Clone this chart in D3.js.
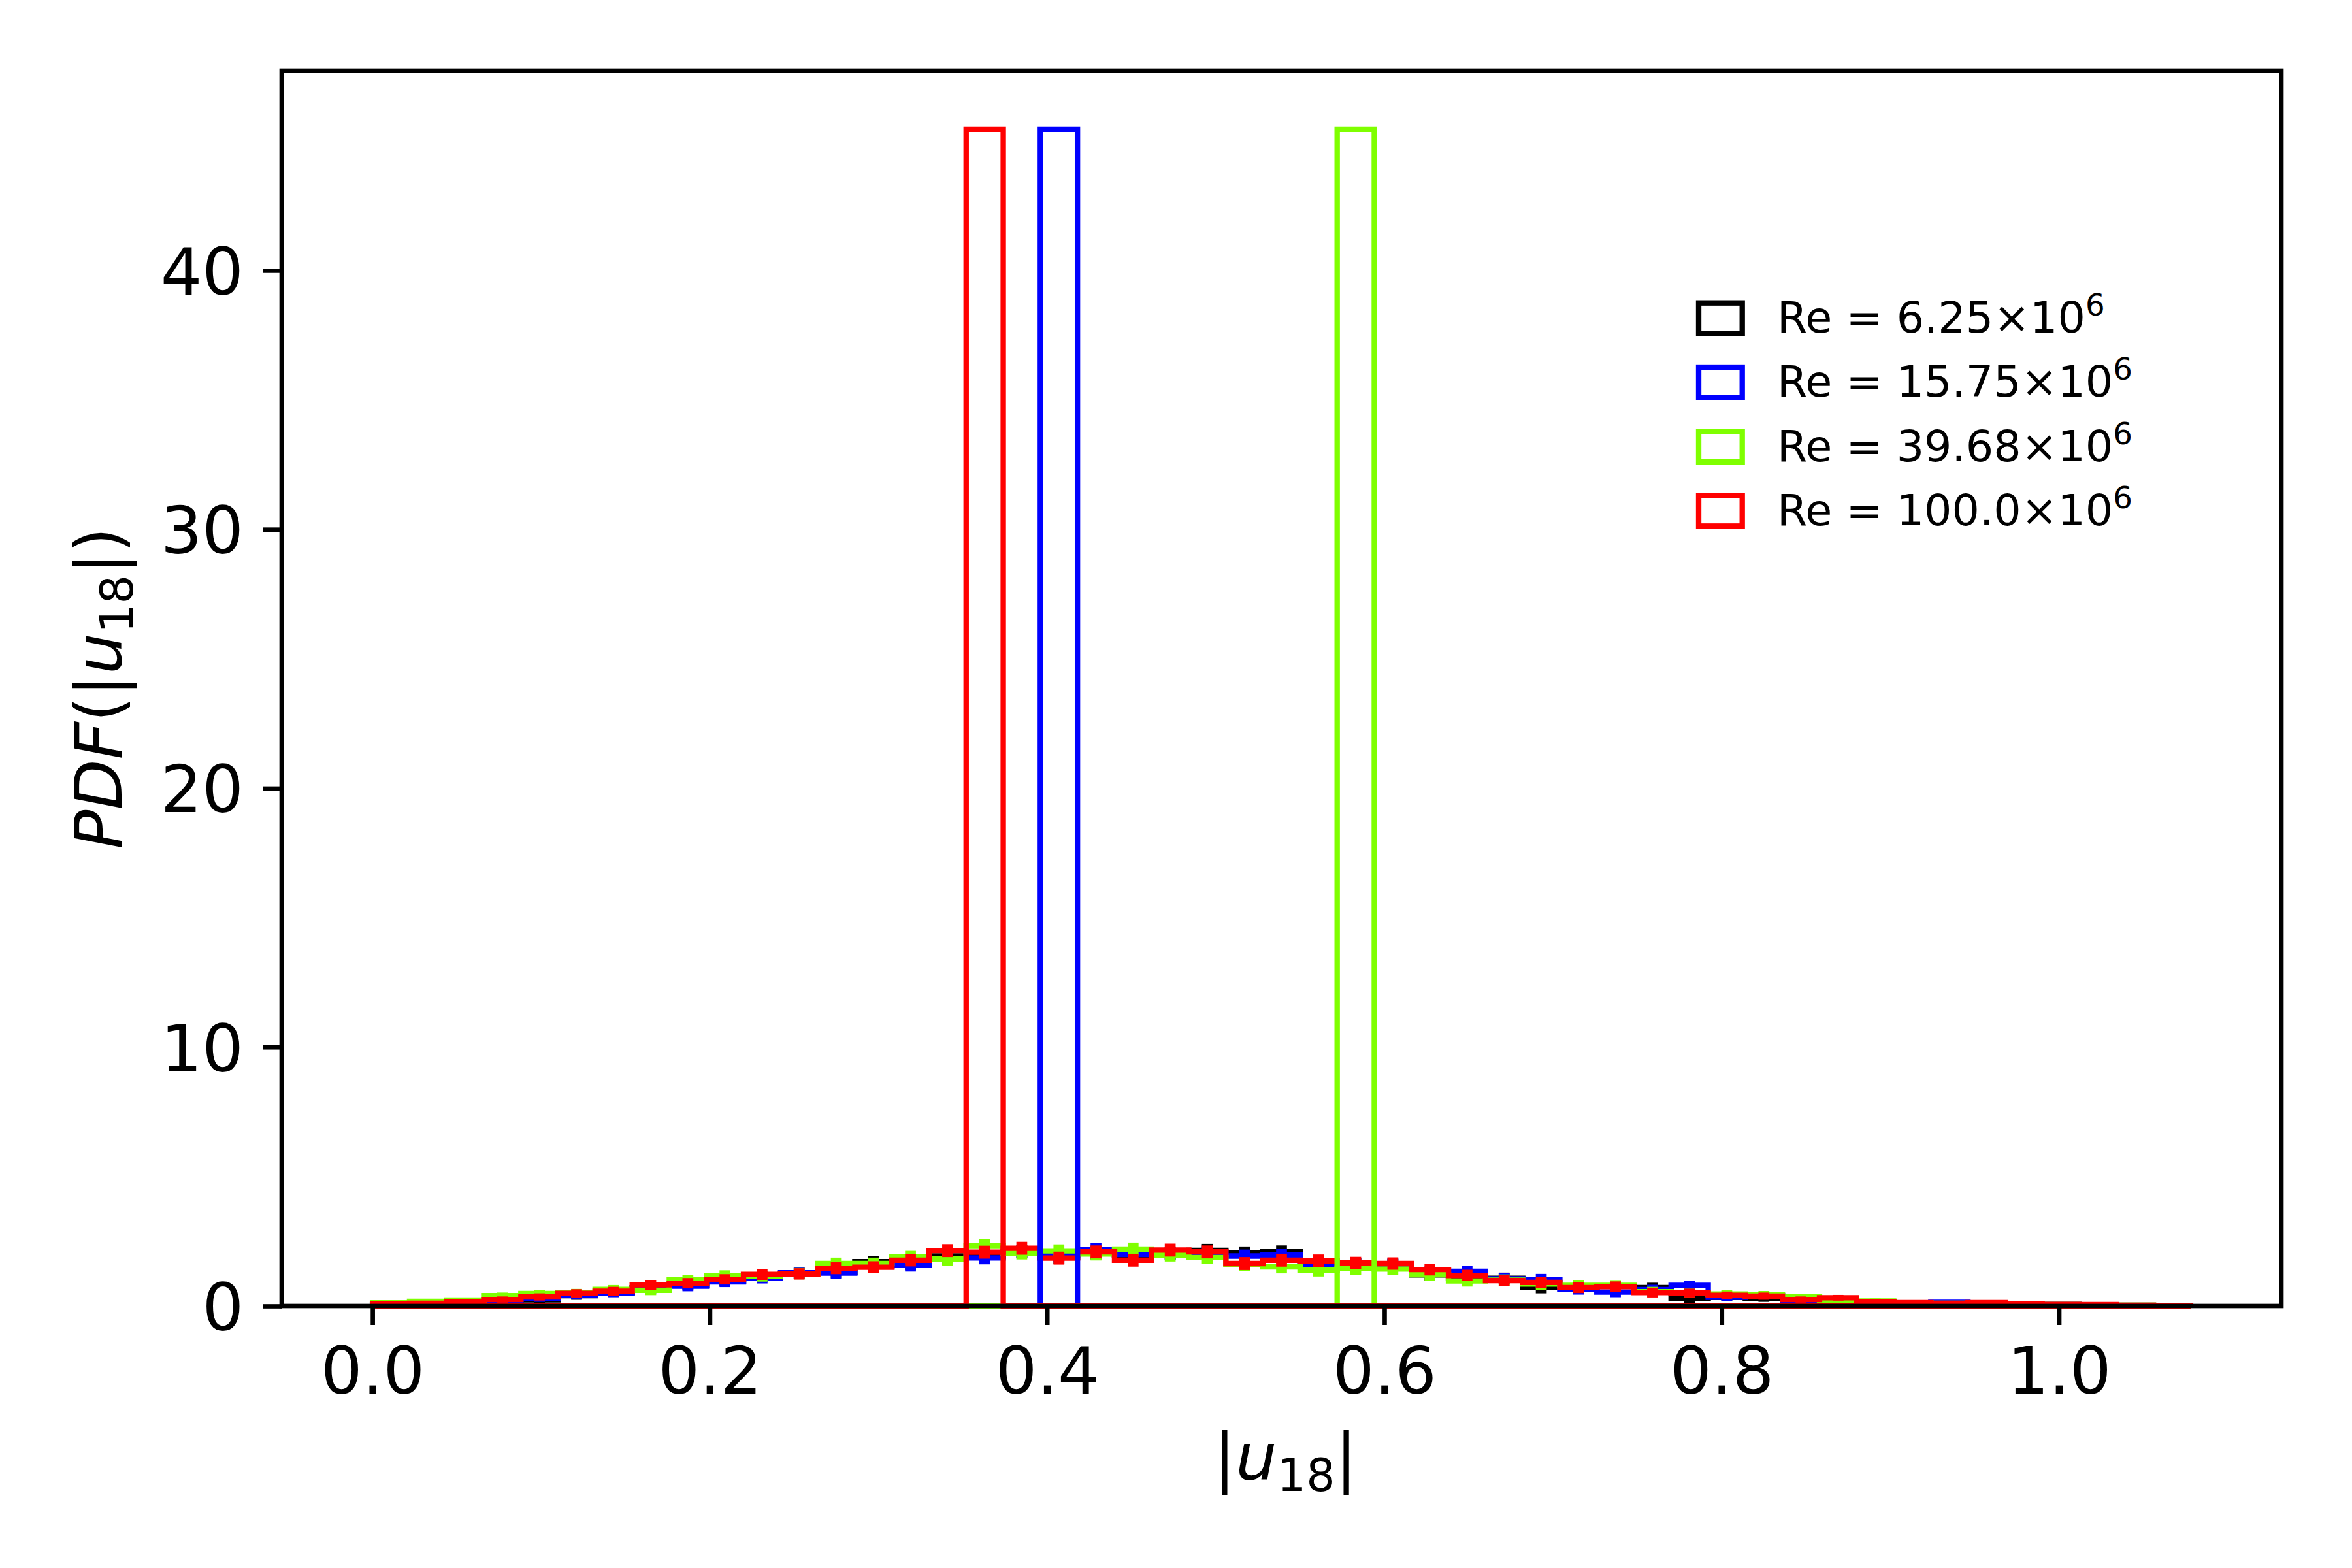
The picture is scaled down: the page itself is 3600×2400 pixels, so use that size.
<!DOCTYPE html>
<html>
<head>
<meta charset="utf-8">
<script src="https://cdn.jsdelivr.net/npm/d3@7/dist/d3.min.js"></script>
<style>
    body { margin: 0; background: #fff; }
    svg text { font-family: 'DejaVu Sans', sans-serif; fill: #000; }
</style>
</head>
<body>
<div id="chart"></div>
<script>
// bins are shared by all four runs
const binWidth = 0.022;
const binCount = 49;

const seriesColors = ['#000000', '#0000ff', '#7fff00', '#ff0000'];
const legendMantissas = ['6.25', '15.75', '39.68', '100.0'];

// broad part of the PDF, one value per bin
const blackValues = [0.05, 0.10, 0.14, 0.22, 0.24, 0.40, 0.52, 0.70, 0.80, 0.95, 1.12, 1.26, 1.30, 1.71, 1.62, 1.93,
    1.92, 2.12, 1.89, 2.05, 1.97, 2.05, 2.15, 2.05, 2.09, 1.57, 1.62, 1.58, 1.20, 1.08, 1.07, 0.71, 0.72, 0.78, 0.71,
    0.29, 0.33, 0.30, 0.25, 0.20, 0.15, 0.12, 0.11, 0.10, 0.07, 0.05, 0.04, 0.03, 0.02];
const blueValues = [0.05, 0.09, 0.13, 0.22, 0.30, 0.41, 0.51, 0.68, 0.77, 0.93, 1.08, 1.28, 1.27, 1.55, 1.57, 1.84,
    1.86, 2.10, 1.95, 2.19, 1.99, 2.02, 2.05, 1.93, 1.97, 1.60, 1.60, 1.62, 1.30, 1.34, 1.05, 1.02, 0.65, 0.54, 0.63,
    0.80, 0.34, 0.40, 0.22, 0.20, 0.15, 0.12, 0.14, 0.09, 0.06, 0.05, 0.04, 0.02, 0.02];
const greenValues = [0.12, 0.18, 0.23, 0.40, 0.48, 0.50, 0.64, 0.61, 1.01, 1.18, 1.15, 1.25, 1.64, 1.64, 1.89, 1.81,
    2.33, 2.05, 2.13, 2.01, 2.20, 1.97, 1.87, 1.60, 1.51, 1.39, 1.45, 1.43, 1.21, 0.97, 1.00, 0.85, 0.80, 0.80, 0.55,
    0.50, 0.46, 0.44, 0.35, 0.22, 0.19, 0.12, 0.10, 0.10, 0.07, 0.05, 0.04, 0.03, 0.02];
const redValues = [0.09, 0.10, 0.15, 0.25, 0.35, 0.49, 0.57, 0.82, 0.88, 1.03, 1.22, 1.24, 1.46, 1.50, 1.77, 2.14,
    2.08, 2.23, 1.85, 2.09, 1.77, 2.16, 2.09, 1.64, 1.77, 1.74, 1.66, 1.64, 1.41, 1.18, 0.98, 0.91, 0.71, 0.75, 0.52,
    0.50, 0.41, 0.38, 0.25, 0.32, 0.17, 0.13, 0.10, 0.13, 0.08, 0.06, 0.05, 0.03, 0.02];
// half length of the error bars, about the same for every run
const errValues = [0.04, 0.06, 0.08, 0.12, 0.14, 0.16, 0.17, 0.19, 0.20, 0.20, 0.21, 0.22, 0.23, 0.23, 0.24, 0.25,
    0.25, 0.25, 0.25, 0.25, 0.25, 0.25, 0.25, 0.25, 0.25, 0.25, 0.24, 0.24, 0.23, 0.22, 0.22, 0.22, 0.21, 0.20, 0.19,
    0.17, 0.15, 0.14, 0.12, 0.11, 0.10, 0.08, 0.07, 0.06, 0.05, 0.04, 0.04, 0.03, 0.03];

// the single tall bin of each run (black one not visible)
const peakBins = [null, 18, 26, 16];
const peakValue = 45.45;

const xTicks = [0.0, 0.2, 0.4, 0.6, 0.8, 1.0];
const yTicks = [0, 10, 20, 30, 40];

const allValues = [blackValues, blueValues, greenValues, redValues];

const width = 3600;
const height = 2400;
const margin = { top: 108, right: 108, bottom: 401, left: 431 };
const innerW = width - margin.left - margin.right;
const innerH = height - margin.top - margin.bottom;

const lw = 8.33;     // 1pt at 600 dpi
const spineW = 6.67;

const xScale = d3.scaleLinear().domain([-0.0539, 1.1319]).range([0, innerW]);
const yScale = d3.scaleLinear().domain([0, 47.72]).range([innerH, 0]);

const svg = d3.select('#chart')
    .append('svg')
    .attr('width', width)
    .attr('height', height);

svg.append('rect').attr('width', width).attr('height', height).attr('fill', '#fff');

const g = svg.append('g').attr('transform', `translate(${margin.left},${margin.top})`);

// outline of a step histogram, as matplotlib draws histtype='step'
const stepPoints = (values) => {
    const pts = [[0, 0]];
    values.forEach((v, i) => {
        pts.push([i * binWidth, v]);
        pts.push([(i + 1) * binWidth, v]);
    });
    pts.push([binCount * binWidth, 0]);
    return pts;
};

const line = d3.line()
    .x((d) => xScale(d[0]))
    .y((d) => yScale(d[1]));

const plot = g.append('g');

// broad histograms with their error bars
allValues.forEach((values, s) => {
    plot.append('path')
        .datum(stepPoints(values))
        .attr('fill', 'none')
        .attr('stroke', seriesColors[s])
        .attr('stroke-width', lw)
        .attr('stroke-linejoin', 'miter')
        .attr('d', line);

    plot.append('g')
        .selectAll('line')
        .data(values)
        .enter()
        .append('line')
        .attr('x1', (d, i) => xScale((i + 0.5) * binWidth))
        .attr('x2', (d, i) => xScale((i + 0.5) * binWidth))
        .attr('y1', (d, i) => yScale(d - errValues[i]))
        .attr('y2', (d, i) => yScale(d + errValues[i]))
        .attr('stroke', seriesColors[s])
        .attr('stroke-width', 2 * lw);
});

// tall single-bin histograms on top
peakBins.forEach((bin, s) => {
    if (bin === null) return;
    const values = d3.range(binCount).map((i) => (i === bin ? peakValue : 0));
    plot.append('path')
        .datum(stepPoints(values))
        .attr('fill', 'none')
        .attr('stroke', seriesColors[s])
        .attr('stroke-width', lw)
        .attr('stroke-linejoin', 'miter')
        .attr('d', line);
});

// axes
const xAxis = g.append('g')
    .attr('transform', `translate(0,${innerH})`)
    .call(d3.axisBottom(xScale).tickValues(xTicks).tickSize(29).tickPadding(29).tickFormat(d3.format('.1f')));

const yAxis = g.append('g')
    .call(d3.axisLeft(yScale).tickValues(yTicks).tickSize(29).tickPadding(29).tickFormat(d3.format('d')));

[xAxis, yAxis].forEach((ax) => {
    ax.select('.domain').remove();
    ax.selectAll('.tick line').attr('stroke', '#000').attr('stroke-width', spineW);
    ax.selectAll('.tick text')
        .attr('font-family', 'DejaVu Sans')
        .attr('font-size', 100)
        .attr('fill', '#000');
});
xAxis.selectAll('.tick text').attr('dy', '0.76em');
yAxis.selectAll('.tick text').attr('dy', '0.365em');

// frame
g.append('rect')
    .attr('width', innerW)
    .attr('height', innerH)
    .attr('fill', 'none')
    .attr('stroke', '#000')
    .attr('stroke-width', spineW);

// x label  |u_18|
const xLabel = svg.append('text')
    .attr('x', margin.left + innerW / 2 + 6)
    .attr('y', 2265)
    .attr('text-anchor', 'middle')
    .attr('font-size', 100);
xLabel.append('tspan').text('|');
xLabel.append('tspan').attr('font-style', 'italic').text('u');
xLabel.append('tspan').attr('font-size', 70).attr('dy', 17).text('18');
xLabel.append('tspan').attr('dy', -17).text('|');

// y label  PDF(|u_18|)
const yLabel = svg.append('text')
    .attr('transform', `translate(186,${margin.top + innerH / 2}) rotate(-90)`)
    .attr('text-anchor', 'middle')
    .attr('font-size', 100);
yLabel.append('tspan').attr('font-style', 'italic').text('PDF');
yLabel.append('tspan').text('(|');
yLabel.append('tspan').attr('font-style', 'italic').text('u');
yLabel.append('tspan').attr('font-size', 70).attr('dy', 17).text('18');
yLabel.append('tspan').attr('dy', -17).text('|)');

// legend, no frame
const legend = svg.append('g');
seriesColors.forEach((color, i) => {
    const cy = 487 + 98.3 * i;
    legend.append('rect')
        .attr('x', 2600)
        .attr('y', cy - 23.3)
        .attr('width', 66.7)
        .attr('height', 46.7)
        .attr('fill', 'none')
        .attr('stroke', color)
        .attr('stroke-width', lw);
    const t = legend.append('text')
        .attr('x', 2720)
        .attr('y', cy + 22)
        .attr('font-size', 66.7);
    t.append('tspan').text(`Re = ${legendMantissas[i]}×10`);
    t.append('tspan').attr('font-size', 46.7).attr('dy', -26).text('6');
});
</script>
</body>
</html>
